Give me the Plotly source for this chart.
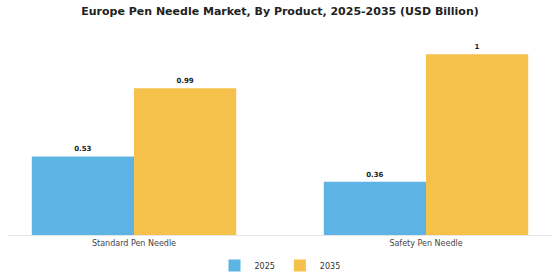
import plotly.graph_objects as go

categories = ["Standard Pen Needle", "Safety Pen Needle"]
years = ["2025", "2035"]
values_2025 = [0.53, 0.36]
values_2035 = [0.99, 1.22]
labels_2025 = ["0.53", "0.36"]
labels_2035 = ["0.99", "1"]
colors = ["#5DB3E4", "#F6C14B"]

fig = go.Figure()
for name, vals, labs, col in [
    (years[0], values_2025, labels_2025, colors[0]),
    (years[1], values_2035, labels_2035, colors[1]),
]:
    fig.add_trace(go.Bar(
        x=categories, y=vals, name=name, marker_color=col,
        marker_line_width=0,
        text=[f"<b>{t}</b>" for t in labs], textposition="outside",
        textfont=dict(size=7, color="#222"), cliponaxis=False,
    ))

fig.update_layout(
    width=560, height=280,
    margin=dict(l=8, r=8, t=35, b=45, autoexpand=False),
    paper_bgcolor="white", plot_bgcolor="white",
    font=dict(family="DejaVu Sans", color="#333"),
    title=dict(text="<b>Europe Pen Needle Market, By Product, 2025-2035 (USD Billion)</b>",
               x=0.5, xanchor="center", y=0.96, yanchor="middle",
               font=dict(size=11, color="#222")),
    barmode="group", bargap=0.3, bargroupgap=0,
    legend=dict(orientation="h", x=0.5, xanchor="center",
                yref="container", y=0.0, yanchor="bottom",
                font=dict(size=8, color="#333"), itemwidth=30),
    showlegend=True,
)
fig.update_xaxes(showline=True, linecolor="#e6e6e6", linewidth=1,
                 tickfont=dict(size=8, color="#444"), ticks="",
                 range=[-0.4315, 1.4315])
fig.update_yaxes(visible=False, range=[0, 1.35], showgrid=False)

fig.write_html("out.html")
